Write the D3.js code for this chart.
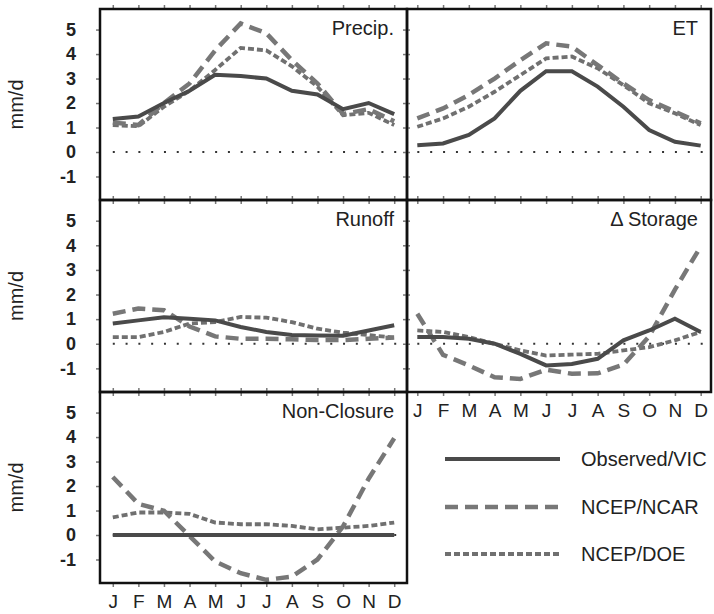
<!DOCTYPE html>
<html>
<head>
<meta charset="utf-8">
<script src="https://cdn.jsdelivr.net/npm/d3@7"></script>
<style>
  body { margin: 0; background: #fff; }
  text { font-family: "Liberation Sans", Arial, sans-serif; fill: #222; }
</style>
</head>
<body>
<div class="canvas"></div>
<script>
// months on the x axis
const months = ["J", "F", "M", "A", "M", "J", "J", "A", "S", "O", "N", "D"]
const yTicks = [-1, 0, 1, 2, 3, 4, 5]
const seriesNames = ["Observed/VIC", "NCEP/NCAR", "NCEP/DOE"]
const panelNames = ["Precip.", "ET", "Runoff", "\u0394 Storage", "Non-Closure"]

// mm/d, monthly values
const precipObs = [1.35, 1.45, 2.0, 2.5, 3.15, 3.1, 3.0, 2.5, 2.35, 1.75, 2.0, 1.55]
const precipNcar = [1.2, 1.1, 2.0, 2.8, 4.15, 5.25, 4.85, 3.75, 2.8, 1.55, 1.75, 1.25]
const precipDoe = [1.1, 1.05, 1.85, 2.5, 3.35, 4.25, 4.15, 3.5, 2.67, 1.5, 1.6, 1.1]

const etObs = [0.28, 0.35, 0.7, 1.37, 2.5, 3.3, 3.3, 2.67, 1.85, 0.9, 0.42, 0.26]
const etNcar = [1.37, 1.78, 2.33, 3.0, 3.75, 4.44, 4.3, 3.55, 2.8, 2.12, 1.65, 1.17]
const etDoe = [1.03, 1.37, 1.85, 2.46, 3.14, 3.82, 3.9, 3.42, 2.73, 1.99, 1.58, 1.1]

const runoffObs = [0.82, 0.95, 1.08, 1.02, 0.95, 0.68, 0.48, 0.36, 0.34, 0.33, 0.54, 0.75]
const runoffNcar = [1.22, 1.43, 1.36, 0.7, 0.3, 0.2, 0.2, 0.18, 0.15, 0.15, 0.2, 0.25]
const runoffDoe = [0.27, 0.27, 0.48, 0.82, 0.88, 1.09, 1.06, 0.88, 0.61, 0.45, 0.35, 0.25]

const storageObs = [0.27, 0.27, 0.2, 0.0, -0.41, -0.88, -0.82, -0.61, 0.14, 0.54, 1.02, 0.48]
const storageNcar = [1.22, -0.45, -0.88, -1.36, -1.43, -1.05, -1.22, -1.2, -0.85, 0.3, 2.2, 3.95]
const storageDoe = [0.54, 0.48, 0.27, 0.0, -0.27, -0.48, -0.44, -0.41, -0.27, -0.14, 0.14, 0.48]

const closureObs = [0, 0, 0, 0, 0, 0, 0, 0, 0, 0, 0, 0]
const closureNcar = [2.37, 1.27, 0.99, -0.04, -1.08, -1.56, -1.83, -1.7, -1.0, 0.35, 2.3, 3.95]
const closureDoe = [0.72, 0.92, 0.92, 0.86, 0.51, 0.44, 0.44, 0.37, 0.23, 0.3, 0.37, 0.51]

const panelData = [
    [precipObs, precipNcar, precipDoe],
    [etObs, etNcar, etDoe],
    [runoffObs, runoffNcar, runoffDoe],
    [storageObs, storageNcar, storageDoe],
    [closureObs, closureNcar, closureDoe]
]

const svg = d3.select(".canvas")
    .append("svg")
    .attr("width", 714)
    .attr("height", 614)

const colX = [[100, 407], [407, 711]]
const rowY = [9, 200, 392, 583]
const styles = [
    { color: "#4a4a4a", width: 4, dash: null },
    { color: "#777", width: 4.5, dash: "13,7" },
    { color: "#707070", width: 3.8, dash: "6,3" }
]

panelData.forEach((series, i) => {
    const col = i % 2
    const row = Math.floor(i / 2)
    const top = rowY[row]
    const bottom = rowY[row + 1]

    const x = d3.scalePoint()
        .domain(d3.range(12))
        .range(colX[col])
        .padding(col == 0 ? 0.5 : 0.4)
    const y = d3.scaleLinear()
        .domain([-1.96, 5.84])
        .range([bottom, top])

    const g = svg.append("g")

    // zero line
    g.append("line")
        .attr("x1", x(0)).attr("x2", colX[col][1] - 4)
        .attr("y1", y(0)).attr("y2", y(0))
        .attr("stroke", "#333")
        .attr("stroke-width", 2)
        .attr("stroke-dasharray", "2," + (x.step() / 2 - 2))

    const line = d3.line()
        .x((d, j) => x(j))
        .y(d => y(d))

    // draw DOE, NCAR, then observed on top
    ;[2, 1, 0].forEach(k => {
        g.append("path")
            .datum(series[k])
            .attr("d", line)
            .attr("fill", "none")
            .attr("stroke", styles[k].color)
            .attr("stroke-width", styles[k].width)
            .attr("stroke-dasharray", styles[k].dash)
    })

    const axTop = g.append("g")
        .attr("transform", `translate(0, ${top})`)
        .call(d3.axisTop(x).tickSize(4).tickFormat(""))
    const labelled = (i == 3 || i == 4)
    const axBottom = g.append("g")
        .attr("transform", `translate(0, ${bottom})`)
        .call(d3.axisBottom(x).tickSize(4).tickPadding(8)
            .tickFormat(labelled ? (d => months[d]) : ""))
    const axLeft = g.append("g")
        .attr("transform", `translate(${colX[col][0]}, 0)`)
        .call(d3.axisLeft(y).tickValues(yTicks).tickSize(4).tickPadding(20)
            .tickFormat(col == 0 ? (d => String(d)) : ""))
    const axIn = g.append("g")
        .attr("transform", `translate(${colX[col][0]}, 0)`)
        .call(d3.axisRight(y).tickValues(yTicks).tickSize(col == 0 ? 0 : 3).tickFormat(""))

    ;[axTop, axBottom, axLeft, axIn].forEach(a => {
        a.select(".domain").remove()
        a.selectAll(".tick line").attr("stroke", "#777").attr("stroke-width", 1.5)
    })
    axBottom.selectAll("text")
        .style("font-size", "19px")
        .attr("fill", "#222")
    axLeft.selectAll("text")
        .style("font-size", "18px")
        .style("font-weight", "bold")
        .attr("fill", "#222")

    // border
    g.append("rect")
        .attr("x", colX[col][0])
        .attr("y", top)
        .attr("width", colX[col][1] - colX[col][0])
        .attr("height", bottom - top)
        .attr("fill", "none")
        .attr("stroke", "#111")
        .attr("stroke-width", 2.5)

    g.append("text")
        .attr("x", colX[col][1] - 13)
        .attr("y", top + 26)
        .attr("text-anchor", "end")
        .style("font-size", "20px")
        .text(panelNames[i])
})

// y axis titles
;[0, 1, 2].forEach(r => {
    const cy = (rowY[r] + rowY[r + 1]) / 2
    svg.append("text")
        .attr("transform", `translate(23, ${cy}) rotate(-90)`)
        .attr("text-anchor", "middle")
        .style("font-size", "20px")
        .text("mm/d")
})

// legend
const legendY = [459, 507, 554]
seriesNames.forEach((name, k) => {
    svg.append("line")
        .attr("x1", 445).attr("x2", 560)
        .attr("y1", legendY[k]).attr("y2", legendY[k])
        .attr("stroke", styles[k].color)
        .attr("stroke-width", styles[k].width)
        .attr("stroke-dasharray", styles[k].dash)
    svg.append("text")
        .attr("x", 581)
        .attr("y", legendY[k] + 7)
        .style("font-size", "20px")
        .text(name)
})
</script>
</body>
</html>
